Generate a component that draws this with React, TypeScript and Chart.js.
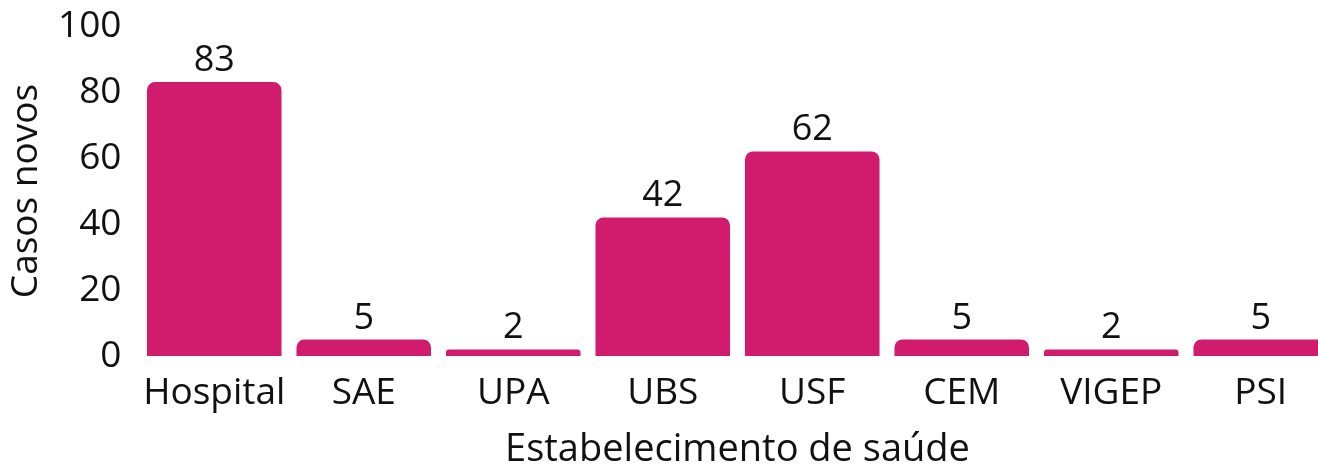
import React, { useEffect, useRef } from "react";
import { Chart, registerables } from "chart.js";

Chart.register(...registerables);

const categories = ["Hospital", "SAE", "UPA", "UBS", "USF", "CEM", "VIGEP", "PSI"];
const casosNovos = [83, 5, 2, 42, 62, 5, 2, 5];
const yTicks = [0, 20, 40, 60, 80, 100];

const FONT = "'Open Sans', sans-serif";
const BAR_COLOR = "#D11C6E";

const valueLabels = {
  id: "valueLabels",
  afterDatasetsDraw(chart: any) {
    const ctx = chart.ctx;
    const meta = chart.getDatasetMeta(0);
    ctx.save();
    ctx.font = `36px ${FONT}`;
    ctx.fillStyle = "#111";
    ctx.textAlign = "center";
    ctx.textBaseline = "alphabetic";
    meta.data.forEach((bar: any, i: number) => {
      ctx.fillText(String(casosNovos[i]), bar.x, bar.y - 11);
    });
    ctx.restore();
  },
};

export default function App() {
  const ref = useRef<HTMLCanvasElement>(null);
  useEffect(() => {
    document.body.style.overflow = "hidden";
    const chart = new Chart(ref.current!, {
      type: "bar",
      data: {
        labels: categories,
        datasets: [
          {
            data: casosNovos,
            backgroundColor: BAR_COLOR,
            borderRadius: 8,
            borderSkipped: "start",
            barPercentage: 0.9,
            categoryPercentage: 1,
          },
        ],
      },
      options: {
        animation: false,
        responsive: true,
        maintainAspectRatio: false,
        layout: { padding: { top: 26, right: 4.5, left: 0, bottom: 0 } },
        plugins: { legend: { display: false }, tooltip: { enabled: false } },
        scales: {
          x: {
            grid: { display: false },
            border: { display: false },
            ticks: { color: "#111", font: { family: FONT, size: 37 }, padding: 7 },
            title: {
              display: true,
              text: "Estabelecimento de saúde",
              color: "#111",
              font: { family: FONT, size: 38 },
              padding: { top: 0, bottom: -9 },
            },
            afterFit: (s: any) => {
              s.height = 108;
              s.paddingLeft = 0;
              s.paddingRight = 0;
            },
          },
          y: {
            min: 0,
            max: 100,
            afterBuildTicks: (s: any) => {
              s.ticks = yTicks.map((v) => ({ value: v }));
            },
            grid: { display: false },
            border: { display: false },
            ticks: { color: "#111", font: { family: FONT, size: 37 }, padding: 10 },
            title: {
              display: true,
              text: "Casos novos",
              color: "#111",
              font: { family: FONT, size: 37 },
              padding: { top: 4, bottom: 0 },
            },
            afterFit: (s: any) => {
              s.width = 139.5;
              s.paddingTop = 0;
              s.paddingBottom = 0;
            },
          },
        },
      },
      plugins: [valueLabels],
    });
    return () => chart.destroy();
  }, []);
  return (
    <div style={{ position: "absolute", left: 0, top: 0, width: 1318, height: 464, overflow: "hidden" }}>
      <div style={{ position: "relative", width: 1340, height: 464 }}>
        <canvas ref={ref} />
      </div>
    </div>
  );
}
